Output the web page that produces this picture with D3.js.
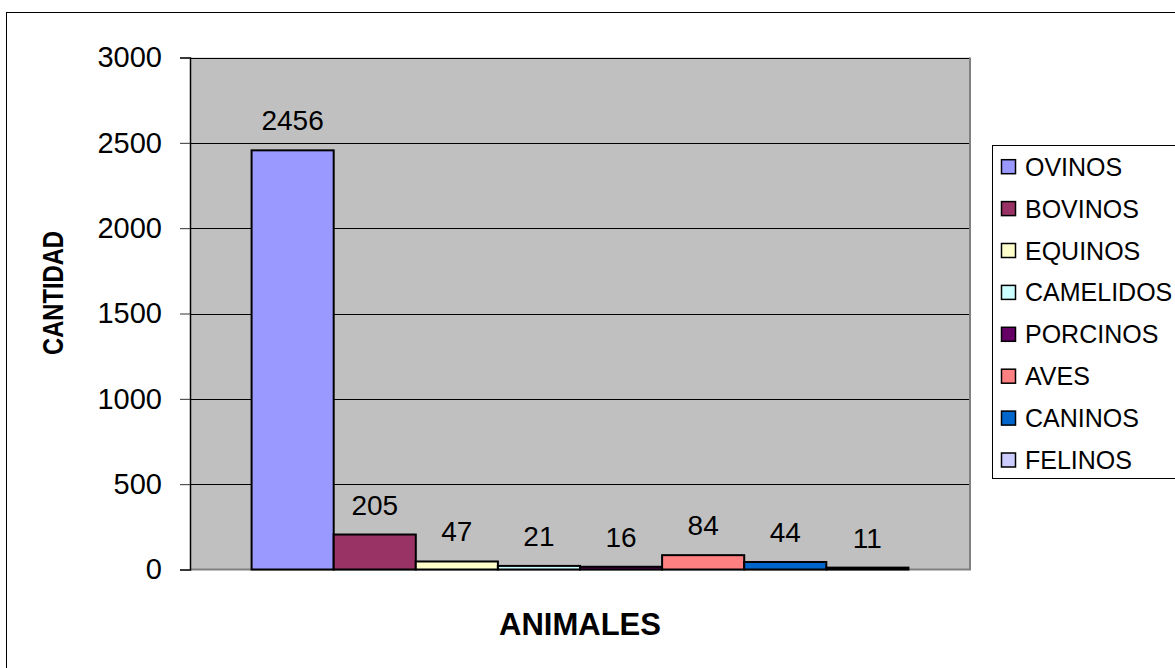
<!DOCTYPE html>
<html>
<head>
<meta charset="utf-8">
<script src="https://cdn.jsdelivr.net/npm/d3@7"></script>
<style>
  body { margin: 0; background: #fff; }
  text { font-family: "Liberation Sans", Arial, sans-serif; }
</style>
</head>
<body>
<div id="chart"></div>
<script>
// data
const animals = ["OVINOS", "BOVINOS", "EQUINOS", "CAMELIDOS", "PORCINOS", "AVES", "CANINOS", "FELINOS"];
const counts = [2456, 205, 47, 21, 16, 84, 44, 11];
const colors = ["#9999FF", "#993366", "#FFFFCC", "#CCFFFF", "#660066", "#FF8080", "#0066CC", "#CCCCFF"];
const yTicks = [0, 500, 1000, 1500, 2000, 2500, 3000];

const W = 1175, H = 668;
const plot = { left: 190, right: 970, top: 57.5, bottom: 569.5 };

const svg = d3.select("#chart").append("svg")
  .attr("width", W)
  .attr("height", H);

// outer chart frame (runs off right and bottom)
svg.append("rect")
  .attr("x", 6.5).attr("y", 12.5)
  .attr("width", W + 20).attr("height", H + 20)
  .attr("fill", "#fff")
  .attr("stroke", "#000")
  .attr("stroke-width", 1);

const x = d3.scaleBand()
  .domain(animals)
  .range([plot.left, plot.right])
  .paddingInner(0)
  .paddingOuter(0.75);

const y = d3.scaleLinear()
  .domain([0, 3000])
  .range([plot.bottom, plot.top]);

// plot area
svg.append("rect")
  .attr("x", plot.left).attr("y", plot.top)
  .attr("width", plot.right - plot.left)
  .attr("height", plot.bottom - plot.top)
  .attr("fill", "#C0C0C0");

// gridlines
svg.append("g")
  .selectAll("line")
  .data(yTicks.filter(d => d > 0))
  .enter().append("line")
  .attr("x1", plot.left).attr("x2", plot.right)
  .attr("y1", d => Math.round(y(d)) + 0.5)
  .attr("y2", d => Math.round(y(d)) + 0.5)
  .attr("stroke", "#000")
  .attr("stroke-width", 1);

// plot border right / bottom
svg.append("path")
  .attr("d", `M${plot.left},${plot.bottom}H${plot.right}V${plot.top}`)
  .attr("fill", "none")
  .attr("stroke", "#808080")
  .attr("stroke-width", 2);

// bars
svg.append("g")
  .selectAll("rect")
  .data(animals)
  .enter().append("rect")
  .attr("x", d => x(d))
  .attr("y", (d, i) => y(counts[i]))
  .attr("width", x.bandwidth())
  .attr("height", (d, i) => plot.bottom - y(counts[i]))
  .attr("fill", (d, i) => colors[i])
  .attr("stroke", "#000")
  .attr("stroke-width", 2);

// value labels
svg.append("g")
  .selectAll("text")
  .data(animals)
  .enter().append("text")
  .attr("x", d => x(d) + x.bandwidth() / 2)
  .attr("y", (d, i) => y(counts[i]) - 20)
  .attr("text-anchor", "middle")
  .attr("font-size", 28)
  .text((d, i) => counts[i]);

// y axis
const yAxis = d3.axisLeft(y)
  .tickValues(yTicks)
  .tickFormat(d3.format("d"))
  .tickSize(10)
  .tickPadding(18);

const gy = svg.append("g")
  .attr("transform", `translate(${plot.left},0)`)
  .call(yAxis);
gy.select(".domain").attr("stroke", "#000").attr("stroke-width", 1.5);
gy.selectAll(".tick line").attr("stroke", "#333");
gy.selectAll(".tick text")
  .attr("font-size", 29)
  .attr("font-family", "'Liberation Sans', Arial, sans-serif")
  .attr("fill", "#000");

// axis titles
svg.append("text")
  .attr("transform", "translate(63,293) rotate(-90)")
  .attr("text-anchor", "middle")
  .attr("font-size", 30)
  .attr("font-weight", "bold")
  .attr("textLength", 124)
  .attr("lengthAdjust", "spacingAndGlyphs")
  .text("CANTIDAD");

svg.append("text")
  .attr("x", (plot.left + plot.right) / 2)
  .attr("y", 635)
  .attr("text-anchor", "middle")
  .attr("font-size", 31)
  .attr("font-weight", "bold")
  .text("ANIMALES");

// legend
const legend = svg.append("g");
legend.append("rect")
  .attr("x", 992.5).attr("y", 145.5)
  .attr("width", 300).attr("height", 333)
  .attr("fill", "#fff")
  .attr("stroke", "#000")
  .attr("stroke-width", 1);

const item = legend.selectAll(".item")
  .data(animals)
  .enter().append("g")
  .attr("class", "item")
  .attr("transform", (d, i) => `translate(1001,${166.7 + i * 41.9})`);

item.append("rect")
  .attr("x", 0.5).attr("y", -7)
  .attr("width", 14).attr("height", 14)
  .attr("fill", (d, i) => colors[i])
  .attr("stroke", "#000")
  .attr("stroke-width", 1.5);

item.append("text")
  .attr("x", 24)
  .attr("y", 9)
  .attr("font-size", 25)
  .text(d => d);
</script>
</body>
</html>
